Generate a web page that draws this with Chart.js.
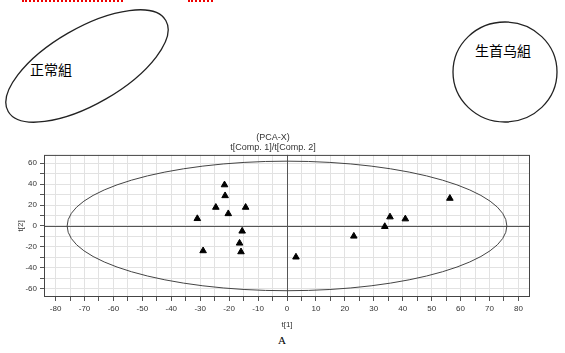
<!DOCTYPE html>
<html>
<head>
<meta charset="utf-8">
<script src="https://cdn.jsdelivr.net/npm/chart.js@4.4.0/dist/chart.umd.min.js"></script>
<style>
body { margin:0; width:565px; height:353px; background:#fff; position:relative; overflow:hidden; }
.redline { position:absolute; top:0; height:0; border-top:2px dotted #e00; }
#shapes { position:absolute; left:0; top:0; }
#chartBox { position:absolute; left:0; top:130px; width:540px; height:200px; }
#caption { position:absolute; left:278px; top:334px; font-family:"Liberation Serif", serif; font-size:11px; color:#000; }
</style>
</head>
<body>
<div class="redline" style="left:22px;width:101px"></div>
<div class="redline" style="left:188px;width:25px"></div>

<svg id="shapes" width="565" height="128">
  <ellipse cx="87" cy="66" rx="91" ry="38" transform="rotate(-30 87 66)" fill="none" stroke="#222" stroke-width="1.3"/>
  <text x="30" y="75" font-family="Noto Sans CJK SC" font-size="14">正常組</text>
  <ellipse cx="505" cy="72" rx="52" ry="50" fill="none" stroke="#222" stroke-width="1.3"/>
  <text x="475" y="56" font-family="Noto Sans CJK SC" font-size="14">生首乌組</text>
</svg>

<div id="chartBox"><canvas id="pcaChart"></canvas></div>
<div id="caption">A</div>

<script>
// scores t[1] / t[2]
const t1 = [-31, -29, -24.6, -21.6, -21.4, -20.3, -14.3, -15.5, -16.4, -15.9, 3.1, 23.1, 33.8, 35.6, 40.9, 56.3];
const t2 = [7, -23.8, 17.8, 39.3, 28.9, 11.7, 17.8, -5, -16.5, -24.8, -29.8, -9.8, -0.6, 8.6, 6.7, 26.4];

// hotelling T2 ellipse radii (axis units)
const ellipseA = 76;
const ellipseB = 62;

const titleLines = ['(PCA-X)', 't[Comp. 1]/t[Comp. 2]'];

var points = t1.map(function (x, i) { return { x: x, y: t2[i] }; });

const framePlugin = {
  id: 'frame',
  beforeDatasetsDraw: function (chart) {
    var c = chart.ctx, xs = chart.scales.x, ys = chart.scales.y, a = chart.chartArea;
    c.save();
    // zero lines
    c.strokeStyle = '#555';
    c.lineWidth = 1;
    c.beginPath();
    c.moveTo(Math.round(xs.getPixelForValue(0)) + 0.5, a.top);
    c.lineTo(Math.round(xs.getPixelForValue(0)) + 0.5, a.bottom);
    c.moveTo(a.left, Math.round(ys.getPixelForValue(0)) + 0.5);
    c.lineTo(a.right, Math.round(ys.getPixelForValue(0)) + 0.5);
    c.stroke();
    // ellipse
    var cx = xs.getPixelForValue(0), cy = ys.getPixelForValue(0);
    var rx = xs.getPixelForValue(ellipseA) - cx;
    var ry = cy - ys.getPixelForValue(ellipseB);
    c.strokeStyle = '#444';
    c.beginPath();
    c.ellipse(cx, cy, rx, ry, 0, 0, Math.PI * 2);
    c.stroke();
    // frame
    c.strokeStyle = '#444';
    c.strokeRect(a.left + 0.5, a.top + 0.5, a.right - a.left - 1, a.bottom - a.top - 1);
    c.restore();
  }
};

new Chart(document.getElementById('pcaChart'), {
  type: 'scatter',
  data: {
    datasets: [{
      data: points,
      pointStyle: 'triangle',
      pointRadius: 3.8,
      backgroundColor: '#000',
      borderColor: '#000',
      borderWidth: 1
    }]
  },
  options: {
    responsive: true,
    maintainAspectRatio: false,
    animation: false,
    layout: { padding: { left: 16, right: 10, top: 0, bottom: 0 } },
    plugins: {
      legend: { display: false },
      tooltip: { enabled: false },
      title: {
        display: true,
        text: titleLines,
        color: '#333',
        font: { family: 'Liberation Sans', size: 9, weight: 'normal', lineHeight: 1.05 },
        padding: { top: 3, bottom: 3 }
      }
    },
    scales: {
      x: {
        type: 'linear',
        min: -84,
        max: 84,
        afterFit: function (s) { s.height = 33; },
        grid: { color: '#e2e2e2', tickColor: '#555', tickLength: 4 },
        border: { display: false },
        ticks: {
          stepSize: 5,
          includeBounds: false,
          autoSkip: false,
          maxRotation: 0,
          padding: 3,
          color: '#333',
          font: { family: 'Liberation Sans', size: 8 },
          callback: function (v) { return v % 10 === 0 ? v : ''; }
        },
        title: {
          display: true,
          text: 't[1]',
          color: '#333',
          font: { family: 'Liberation Sans', size: 8 },
          padding: { top: 3, bottom: 0 }
        }
      },
      y: {
        type: 'linear',
        min: -68,
        max: 68,
        afterFit: function (s) { s.width = 28; },
        grid: { color: '#e2e2e2', tickColor: '#555', tickLength: 4 },
        border: { display: false },
        ticks: {
          stepSize: 10,
          includeBounds: false,
          autoSkip: false,
          padding: 3,
          color: '#333',
          font: { family: 'Liberation Sans', size: 8 },
          callback: function (v) { return v % 20 === 0 ? v : ''; }
        },
        title: {
          display: true,
          text: 't[2]',
          color: '#333',
          font: { family: 'Liberation Sans', size: 8 },
          padding: { top: 0, bottom: 0 }
        }
      }
    }
  },
  plugins: [framePlugin]
});
</script>
</body>
</html>
